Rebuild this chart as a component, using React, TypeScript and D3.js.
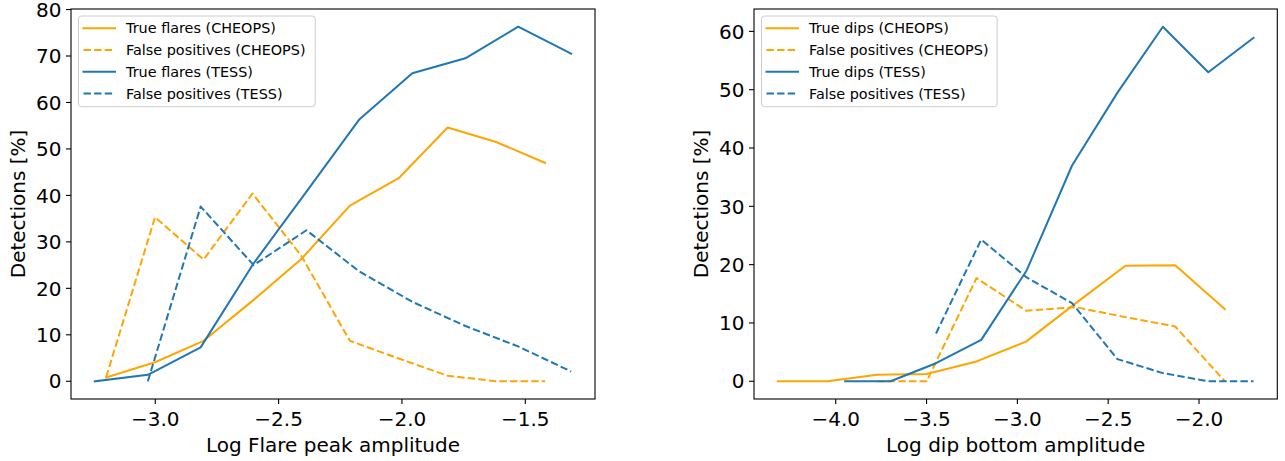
import React from "react";
import * as d3 from "d3";

// ---------- Left panel: flares ----------
const flareXCheops = [-3.199, -3.001, -2.804, -2.606, -2.408, -2.211, -2.013, -1.815, -1.618, -1.42];
const flareXTess = [-3.245, -3.03, -2.816, -2.601, -2.387, -2.172, -1.958, -1.743, -1.529, -1.314];
const flareTrueCheops = [0.8, 4.1, 8.7, 17.3, 26.3, 37.8, 43.7, 54.6, 51.5, 47.0];
const flareFalseCheops = [0.9, 35.3, 26.2, 40.4, 27.0, 8.7, 4.9, 1.2, 0, 0];
const flareTrueTess = [0, 1.4, 7.3, 25.4, 40.8, 56.4, 66.3, 69.5, 76.3, 70.5];
const flareFalseTess: (number | null)[] = [null, 0, 37.6, 25.0, 32.5, 23.6, 17.1, 11.9, 7.5, 2.1];
const flareXTicks = [-3.0, -2.5, -2.0, -1.5];
const flareYTicks = [0, 10, 20, 30, 40, 50, 60, 70, 80];
const flareLabels = ["True flares (CHEOPS)", "False positives (CHEOPS)", "True flares (TESS)", "False positives (TESS)"];

// ---------- Right panel: dips ----------
const dipXCheops = [-4.319, -4.046, -3.772, -3.499, -3.225, -2.952, -2.678, -2.405, -2.131, -1.858];
const dipXTess = [-3.948, -3.698, -3.448, -3.199, -2.949, -2.699, -2.449, -2.199, -1.949, -1.7];
const dipTrueCheops = [0, 0, 1.1, 1.25, 3.4, 6.8, 13.4, 19.8, 19.9, 12.4];
const dipFalseCheops: (number | null)[] = [null, null, 0, 0, 17.7, 12.1, 12.7, 11.0, 9.4, 0];
const dipTrueTess = [0, 0, 3.1, 7.1, 19.0, 37.0, 49.5, 60.8, 53.0, 58.9];
const dipFalseTess: (number | null)[] = [null, null, 8.2, 24.3, 17.8, 13.4, 3.8, 1.4, 0, 0];
const dipXTicks = [-4.0, -3.5, -3.0, -2.5, -2.0];
const dipYTicks = [0, 10, 20, 30, 40, 50, 60];
const dipLabels = ["True dips (CHEOPS)", "False positives (CHEOPS)", "True dips (TESS)", "False positives (TESS)"];

const ORANGE = "#ffa500";
const BLUE = "#1f77b4";
const FONT = "DejaVu Sans, sans-serif";
const DASH = "7.4,3.2";

type Series = { x: number[]; y: (number | null)[]; color: string; dashed: boolean; label: string };

function padExtent(vals: number[]): [number, number] {
  const lo = d3.min(vals) as number;
  const hi = d3.max(vals) as number;
  const p = (hi - lo) * 0.05;
  return [lo - p, hi + p];
}

const fmt = (v: number) => {
  const s = d3.format(".1f")(Math.abs(v));
  return v < 0 ? "\u2212" + s : s;
};

function Panel(props: {
  left: number; right: number; top: number; bottom: number;
  series: Series[]; xTicks: number[]; yTicks: number[]; xLabel: string;
  legendW: number;
}) {
  const { left, right, top, bottom, series, xTicks, yTicks, xLabel, legendW } = props;
  const allX: number[] = [];
  const allY: number[] = [];
  series.forEach((s) => s.x.forEach((xv, i) => {
    if (s.y[i] != null) { allX.push(xv); allY.push(s.y[i] as number); }
  }));
  const x = d3.scaleLinear().domain(padExtent(allX)).range([left, right]);
  const y = d3.scaleLinear().domain(padExtent(allY)).range([bottom, top]);
  const line = d3.line<[number, number | null]>()
    .defined((d) => d[1] != null)
    .x((d) => x(d[0]))
    .y((d) => y(d[1] as number));
  const cx = (left + right) / 2;
  const cy = (top + bottom) / 2;
  const lgX = left + 7.5;
  const lgY = top + 7;
  return (
    <g>
      {series.map((s, i) => (
        <path key={i} d={line(s.x.map((xv, j) => [xv, s.y[j]] as [number, number | null])) || ""}
          fill="none" stroke={s.color} strokeWidth={2}
          strokeDasharray={s.dashed ? DASH : undefined}
          strokeLinejoin="round" strokeLinecap={s.dashed ? "butt" : "square"} />
      ))}
      <rect x={left} y={top} width={right - left} height={bottom - top} fill="none" stroke="#000" strokeWidth={1.1} />
      {xTicks.map((t) => (
        <g key={t}>
          <line x1={x(t)} x2={x(t)} y1={bottom} y2={bottom + 5} stroke="#000" strokeWidth={1.1} />
          <text x={x(t)} y={bottom + 26.5} textAnchor="middle" fontFamily={FONT} fontSize={20} fill="#000">{fmt(t)}</text>
        </g>
      ))}
      {yTicks.map((t) => (
        <g key={t}>
          <line x1={left - 5} x2={left} y1={y(t)} y2={y(t)} stroke="#000" strokeWidth={1.1} />
          <text x={left - 9.5} y={y(t)} dy="0.36em" textAnchor="end" fontFamily={FONT} fontSize={20} fill="#000">{t}</text>
        </g>
      ))}
      <text x={cx} y={452} textAnchor="middle" fontFamily={FONT} fontSize={20} fill="#000">{xLabel}</text>
      <text transform={`translate(${left - 46},${cy}) rotate(-90)`} textAnchor="middle" fontFamily={FONT} fontSize={20} fill="#000">Detections [%]</text>
      <rect x={lgX} y={lgY} width={legendW} height={90.7} rx={3} ry={3} fill="#fff" fillOpacity={0.8} stroke="#cccccc" strokeWidth={1} />
      {series.map((s, i) => {
        const ry = lgY + 12.3 + i * 21.7;
        return (
          <g key={i}>
            <line x1={lgX + 5} x2={lgX + 36.5} y1={ry} y2={ry} stroke={s.color} strokeWidth={2}
              strokeDasharray={s.dashed ? DASH : undefined} strokeLinecap={s.dashed ? "butt" : "square"} />
            <text x={lgX + 47.5} y={ry} dy="0.36em" fontFamily={FONT} fontSize={14.4} fill="#000">{s.label}</text>
          </g>
        );
      })}
    </g>
  );
}

export default function App() {
  const flareSeries: Series[] = [
    { x: flareXCheops, y: flareTrueCheops, color: ORANGE, dashed: false, label: flareLabels[0] },
    { x: flareXCheops, y: flareFalseCheops, color: ORANGE, dashed: true, label: flareLabels[1] },
    { x: flareXTess, y: flareTrueTess, color: BLUE, dashed: false, label: flareLabels[2] },
    { x: flareXTess, y: flareFalseTess, color: BLUE, dashed: true, label: flareLabels[3] },
  ];
  const dipSeries: Series[] = [
    { x: dipXCheops, y: dipTrueCheops, color: ORANGE, dashed: false, label: dipLabels[0] },
    { x: dipXCheops, y: dipFalseCheops, color: ORANGE, dashed: true, label: dipLabels[1] },
    { x: dipXTess, y: dipTrueTess, color: BLUE, dashed: false, label: dipLabels[2] },
    { x: dipXTess, y: dipFalseTess, color: BLUE, dashed: true, label: dipLabels[3] },
  ];
  return (
    <svg width={1285} height={461} style={{ position: "absolute", left: 0, top: 0, background: "#fff" }}>
      <rect x={0} y={0} width={1285} height={461} fill="#fff" />
      <Panel left={71} right={595} top={9} bottom={399} series={flareSeries}
        xTicks={flareXTicks} yTicks={flareYTicks} xLabel="Log Flare peak amplitude" legendW={236.7} />
      <Panel left={754} right={1277.3} top={9} bottom={399} series={dipSeries}
        xTicks={dipXTicks} yTicks={dipYTicks} xLabel="Log dip bottom amplitude" legendW={235.6} />
    </svg>
  );
}
